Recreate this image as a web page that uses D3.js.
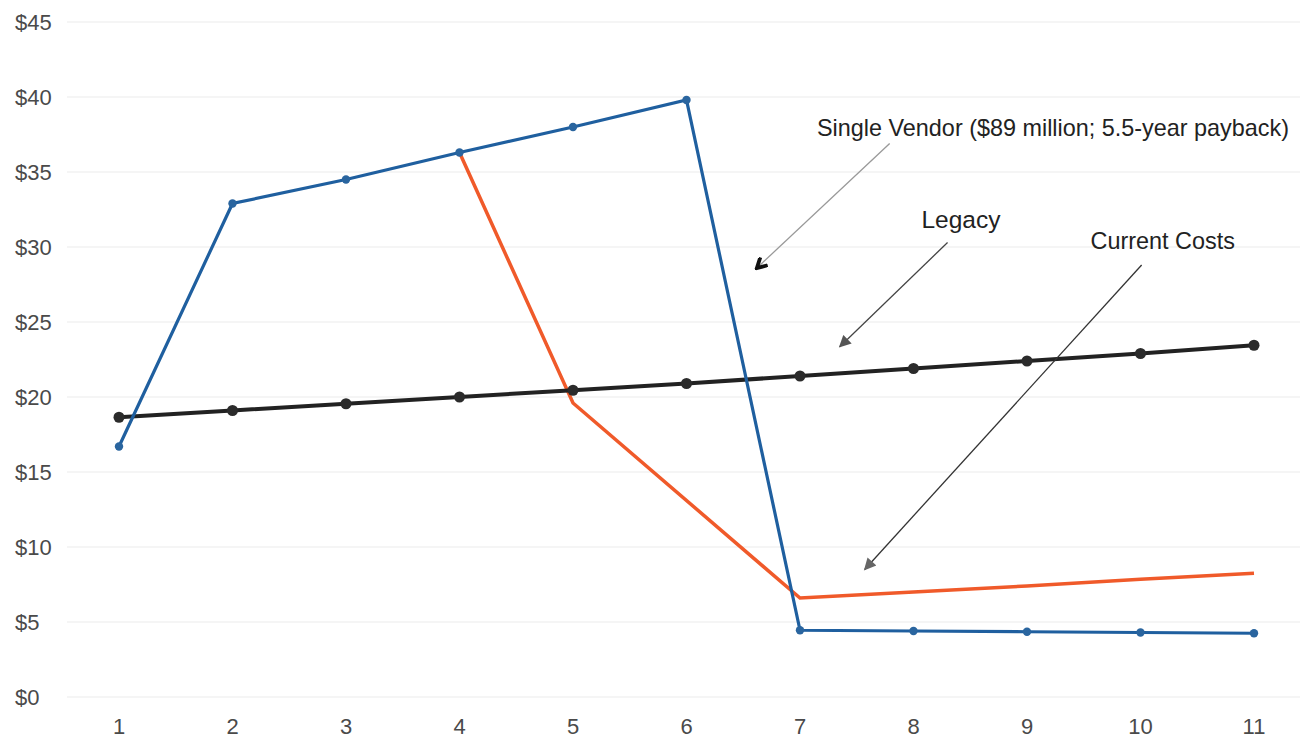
<!DOCTYPE html>
<html>
<head>
<meta charset="utf-8">
<script src="https://cdn.jsdelivr.net/npm/d3@7"></script>
<style>
  body { margin: 0; background: #fff; }
  svg { display: block; font-family: "Liberation Sans", Arial, sans-serif; }
  .tick-label { fill: #4a4a4a; font-size: 22px; }
  .note { fill: #222; }
</style>
</head>
<body>
<svg width="1300" height="744"></svg>
<script>
// dados do gráfico
const years = [1, 2, 3, 4, 5, 6, 7, 8, 9, 10, 11];
const yTicks = [0, 5, 10, 15, 20, 25, 30, 35, 40, 45];
const singleVendor = [16.7, 32.9, 34.5, 36.3, 38.0, 39.8, 4.45, 4.4, 4.35, 4.3, 4.25];
const legacy = [18.65, 19.1, 19.55, 20.0, 20.45, 20.9, 21.4, 21.9, 22.4, 22.9, 23.45];
const currentYears = [4, 5, 7, 8, 9, 10, 11];
const currentCosts = [36.3, 19.6, 6.6, 7.0, 7.4, 7.85, 8.25];

// anotações (em unidades dos dados)
const notes = [
  { text: "Single Vendor ($89 million; 5.5-year payback)", tx: 7.15, ty: 37.4, size: 23.4,
    from: [7.79, 36.9], to: [6.62, 28.6], line: "#999", head: "chevron" },
  { text: "Legacy", tx: 8.07, ty: 31.3, size: 24.5,
    from: [8.30, 30.3], to: [7.35, 23.35], line: "#444", head: "tri-dark" },
  { text: "Current Costs", tx: 9.56, ty: 29.9, size: 23.4,
    from: [10.01, 28.8], to: [7.57, 8.5], line: "#333", head: "tri-gray" }
];

const svg = d3.select("svg");
const x = d3.scaleLinear().domain([1, 11]).range([119, 1254]);
const y = d3.scaleLinear().domain([0, 45]).range([697, 22]);

// pontas de seta
const defs = svg.append("defs");
defs.append("marker")
  .attr("id", "chevron")
  .attr("viewBox", "0 -6 12 12")
  .attr("refX", 10).attr("refY", 0)
  .attr("markerWidth", 13).attr("markerHeight", 13)
  .attr("markerUnits", "userSpaceOnUse")
  .attr("orient", "auto")
  .append("path")
  .attr("d", "M1,-5L10,0L1,5")
  .attr("fill", "none")
  .attr("stroke", "#111")
  .attr("stroke-width", 3.5);
[["tri-dark", "#555"], ["tri-gray", "#666"]].forEach(([id, c]) => {
  defs.append("marker")
    .attr("id", id)
    .attr("viewBox", "0 -5 10 10")
    .attr("refX", 9).attr("refY", 0)
    .attr("markerWidth", 14).attr("markerHeight", 12)
    .attr("markerUnits", "userSpaceOnUse")
    .attr("orient", "auto")
    .append("path")
    .attr("d", "M0,-5L10,0L0,5Z")
    .attr("fill", c);
});

// linhas de grade e rótulos do eixo y
svg.append("g").selectAll("line")
  .data(yTicks)
  .join("line")
  .attr("x1", 67).attr("x2", 1300)
  .attr("y1", d => y(d)).attr("y2", d => y(d))
  .attr("stroke", "#ebebeb")
  .attr("stroke-width", 1);

svg.append("g").selectAll("text")
  .data(yTicks)
  .join("text")
  .attr("class", "tick-label")
  .attr("x", 15)
  .attr("y", d => y(d))
  .attr("dy", "0.36em")
  .text(d => "$" + d);

// rótulos do eixo x
svg.append("g").selectAll("text")
  .data(years)
  .join("text")
  .attr("class", "tick-label")
  .attr("x", d => x(d))
  .attr("y", 734)
  .attr("text-anchor", "middle")
  .text(d => d);

const line = d3.line().x(d => x(d[0])).y(d => y(d[1]));

// Current Costs (laranja, sem marcadores)
const currentPts = currentYears.map((yr, i) => [yr, currentCosts[i]]);
svg.append("path")
  .datum(currentPts)
  .attr("d", line)
  .attr("fill", "none")
  .attr("stroke", "#f05a2a")
  .attr("stroke-width", 3.5)
  .attr("stroke-linejoin", "miter");

// Legacy (preto)
const legacyPts = years.map((yr, i) => [yr, legacy[i]]);
svg.append("path")
  .datum(legacyPts)
  .attr("d", line)
  .attr("fill", "none")
  .attr("stroke", "#222")
  .attr("stroke-width", 4);
svg.append("g").selectAll("circle")
  .data(legacyPts)
  .join("circle")
  .attr("cx", d => x(d[0])).attr("cy", d => y(d[1]))
  .attr("r", 5.5)
  .attr("fill", "#2b2b2b");

// Single Vendor (azul)
const vendorPts = years.map((yr, i) => [yr, singleVendor[i]]);
svg.append("path")
  .datum(vendorPts)
  .attr("d", line)
  .attr("fill", "none")
  .attr("stroke", "#1f5f9f")
  .attr("stroke-width", 3.2);
svg.append("g").selectAll("circle")
  .data(vendorPts)
  .join("circle")
  .attr("cx", d => x(d[0])).attr("cy", d => y(d[1]))
  .attr("r", 4.2)
  .attr("fill", "#2a659f");

// anotações com setas
notes.forEach(n => {
  svg.append("line")
    .attr("x1", x(n.from[0])).attr("y1", y(n.from[1]))
    .attr("x2", x(n.to[0])).attr("y2", y(n.to[1]))
    .attr("stroke", n.line)
    .attr("stroke-width", 1.3)
    .attr("marker-end", `url(#${n.head})`);
  svg.append("text")
    .attr("class", "note")
    .attr("x", x(n.tx)).attr("y", y(n.ty))
    .attr("font-size", n.size)
    .text(n.text);
});
</script>
</body>
</html>
